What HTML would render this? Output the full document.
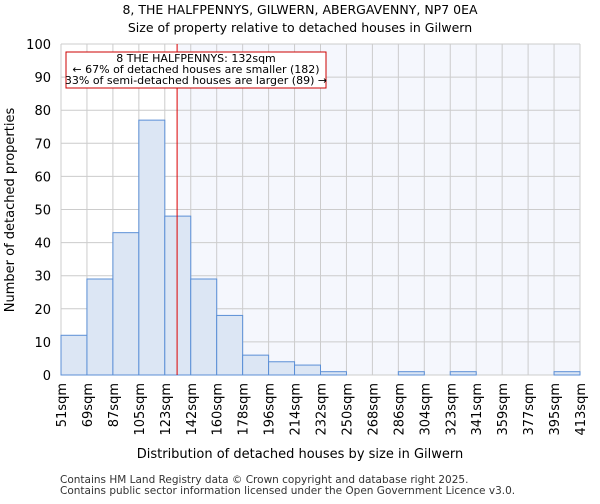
<!DOCTYPE html>
<html><head><meta charset="utf-8"><style>
body{margin:0;background:#fff;font-family:"DejaVu Sans","Liberation Sans",sans-serif}
</style></head><body>
<svg id="c" width="600" height="500" xmlns="http://www.w3.org/2000/svg" font-family="DejaVu Sans, Liberation Sans, sans-serif">
<text x="300" y="14" text-anchor="middle" font-size="12.5">8, THE HALFPENNYS, GILWERN, ABERGAVENNY, NP7 0EA</text>
<text x="300" y="32" text-anchor="middle" font-size="12.5">Size of property relative to detached houses in Gilwern</text>
<g id="plot"></g>
<text x="300" y="458" text-anchor="middle" font-size="13">Distribution of detached houses by size in Gilwern</text>
<text transform="translate(14,210) rotate(-90)" text-anchor="middle" font-size="13">Number of detached properties</text>
<text x="60" y="483" font-size="10.5" fill="#333">Contains HM Land Registry data © Crown copyright and database right 2025.</text>
<text x="60" y="494" font-size="10.5" fill="#333">Contains public sector information licensed under the Open Government Licence v3.0.</text>
</svg>
<script>
const binLabels=["51sqm","69sqm","87sqm","105sqm","123sqm","142sqm","160sqm","178sqm","196sqm","214sqm","232sqm","250sqm","268sqm","286sqm","304sqm","323sqm","341sqm","359sqm","377sqm","395sqm","413sqm"];
const binEdges=[51,69,87,105,123,142,160,178,196,214,232,250,268,286,304,323,341,359,377,395,413];
const counts=[12,29,43,77,48,29,18,6,4,3,1,0,0,1,0,1,0,0,0,1];
const yTicks=[0,10,20,30,40,50,60,70,80,90,100];
const propertySize=132;
const NS="http://www.w3.org/2000/svg";
const L=61,R=580,T=44,B=375,yMax=100;
const n=counts.length,bw=(R-L)/n;
const xi=i=>L+i*bw;
const xv=v=>{for(let i=0;i<binEdges.length-1;i++){if(v<=binEdges[i+1])return xi(i)+(v-binEdges[i])/(binEdges[i+1]-binEdges[i])*bw;}return R;};
const y=v=>B-(v/yMax)*(B-T);
const g=document.getElementById('plot');
function mk(t,a){const e=document.createElementNS(NS,t);for(const k in a)e.setAttribute(k,a[k]);g.appendChild(e);return e;}
const px=xv(propertySize);
let e=mk('rect',{x:px,y:T,width:R-px,height:B-T,fill:'#f5f7fd'});


yTicks.forEach(t=>{
 let l=mk('line',{x1:L,x2:R,y1:y(t),y2:y(t),stroke:'#ccc','stroke-width':1});
 
 
 let tx=mk('text',{x:L-10,y:y(t)+5,'text-anchor':'end','font-size':13});
 tx.textContent=t;
 
 
});
binLabels.forEach((lb,i)=>{
 let l=mk('line',{x1:xi(i),x2:xi(i),y1:T,y2:B,stroke:'#ccc','stroke-width':1});
 
 
 let tx=mk('text',{transform:`translate(${xi(i)+5},${B+8}) rotate(-90)`,'text-anchor':'end','font-size':13});
 tx.textContent=lb;
 
 
});
counts.forEach((c,i)=>{
 if(c<=0)return;
 let r=mk('rect',{x:xi(i),y:y(c),width:bw,height:B-y(c),fill:'#dce6f4',stroke:'#5b8fd6','stroke-width':1});
 
 
});
let rl=mk('line',{x1:px,x2:px,y1:T,y2:B,stroke:'#dd0000','stroke-width':1});


let bx=mk('rect',{x:66,y:52,width:260,height:36,fill:'#fff',stroke:'#cc0000','stroke-width':1});


["8 THE HALFPENNYS: 132sqm","← 67% of detached houses are smaller (182)","33% of semi-detached houses are larger (89) →"].forEach((s,i)=>{
 let t=mk('text',{x:196,y:62+i*11,'text-anchor':'middle','font-size':11});
 t.textContent=s;
 
 
});
</script>
</body></html>
